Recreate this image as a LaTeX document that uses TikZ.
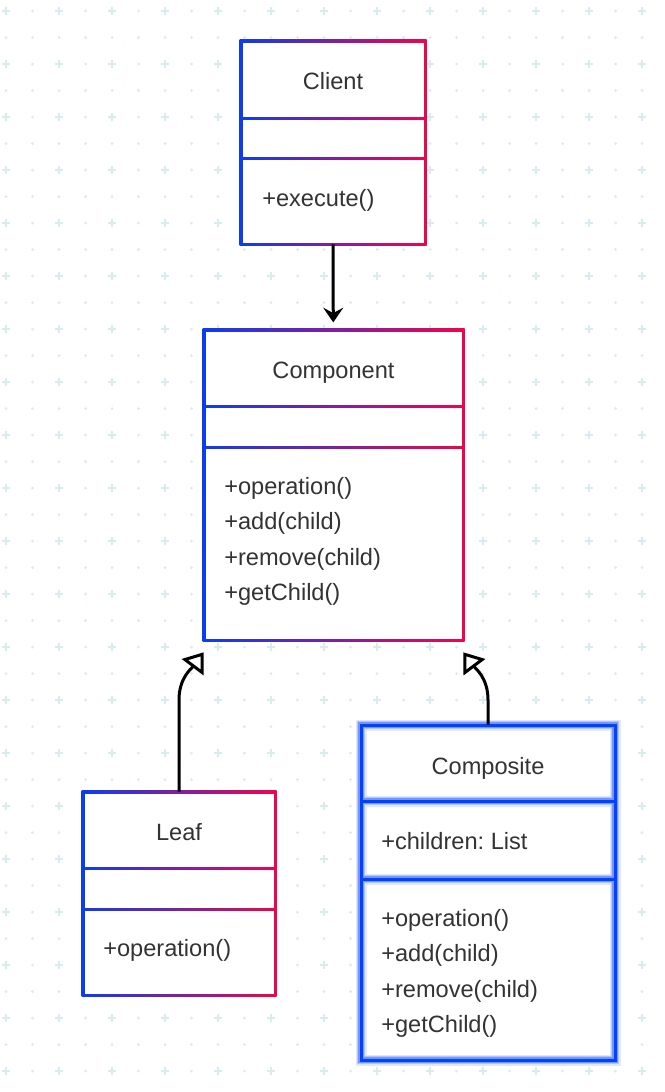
\documentclass[tikz,border=0pt]{standalone}
\usepackage{fontspec}
\setmainfont{Liberation Sans}
\usetikzlibrary{arrows.meta,calc,fit,positioning}
\definecolor{gridcol}{RGB}{214,236,239}
\definecolor{umlblue}{RGB}{12,60,242}
\definecolor{umlred}{RGB}{240,4,76}
\definecolor{glowblue}{RGB}{0,66,255}
\definecolor{txt}{RGB}{51,51,51}
\frenchspacing
\begin{document}
\begin{tikzpicture}[x=0.75pt,y=-0.75pt]
	\tikzset{classtitle/.style = {anchor=base, inner sep=0pt, text=txt, font=\fontsize{17.7}{21}\selectfont}}
	\tikzset{member/.style = {anchor=base west, inner sep=0pt, text=txt, font=\fontsize{17.7}{21}\selectfont}}
	\tikzset{uses/.style = {-{Stealth[length=11pt,width=15pt,inset=4pt]}, line width=2.25pt}}
	\tikzset{inherits/.style = {-{Triangle[open,length=14pt,width=20pt]}, line width=2.25pt}}
	\useasboundingbox[fill=white] (0,0) rectangle (664,1092);
	\foreach \i in {0,...,25}
		\foreach \j in {0,...,41}
			\fill[gridcol] (6+26.5*\i,11+26.5*\j) circle (1.5);
	\foreach \i in {0,...,12}
		\foreach \j in {0,...,20}
			\draw[gridcol, line width=1.5pt] (2+53*\i,11+53*\j) -- ++(8,0) (6+53*\i,7+53*\j) -- ++(0,8);
	\foreach \xa/\ya/\xb/\yb/\da/\db in {241/41/425/244/118/158, 204/330/463/640/406/447, 83/792/275/995/868/909}{
		\shade[left color=umlblue, right color=umlred] (\xa-1.5,\ya-1.5) rectangle (\xb+1.5,\yb+1.5);
		\fill[white] (\xa+1.5,\ya+1.5) rectangle (\xb-1.5,\da-1.5);
		\fill[white] (\xa+1.5,\da+1.5) rectangle (\xb-1.5,\db-1.5);
		\fill[white] (\xa+1.5,\db+1.5) rectangle (\xb-1.5,\yb-1.5);
	}
	\fill[white] (361,725) rectangle (615,1060);
	\foreach \w/\o in {11/0.12, 8/0.2, 5.5/0.35}
		\draw[glowblue, opacity=\o, line width=\w*0.75pt] (361,725) rectangle (615,1060) (361,801) -- (615,801) (361,879) -- (615,879);
	\draw[glowblue, line width=2.25pt] (361,725) rectangle (615,1060) (361,801) -- (615,801) (361,879) -- (615,879);
	\node[inner sep=0pt, fit={(241,41) (425,244)}] (client) {};
	\node[inner sep=0pt, fit={(204,330) (463,640)}] (component) {};
	\node[inner sep=0pt, fit={(83,792) (275,995)}] (leaf) {};
	\node[inner sep=0pt, fit={(361,725) (615,1060)}] (composite) {};
	\node[classtitle] (clientname) at (333,89) {Client};
	\node[member] (execute) at (262,206) {+execute()};
	\node[classtitle] (componentname) at (333.5,378) {Component};
	\node[member] (compop) at (224,494) {+operation()};
	\node[member] (compadd) at (224,529.5) {+add(child)};
	\node[member] (compremove) at (224,565) {+remove(child)};
	\node[member] (compget) at (224,600.5) {+getChild()};
	\node[classtitle] (leafname) at (179,840) {Leaf};
	\node[member] (leafop) at (103,956) {+operation()};
	\node[classtitle] (compositename) at (488,774) {Composite};
	\node[member] (children) at (381,849) {+children: List};
	\node[member] (compositeop) at (381,926) {+operation()};
	\node[member] (compositeadd) at (381,961.5) {+add(child)};
	\node[member] (compositeremove) at (381,997) {+remove(child)};
	\node[member] (compositeget) at (381,1032.5) {+getChild()};
	\draw[uses, shorten >=5.5pt] (client) -- (component);
	\draw[inherits] (leaf.north) -- ++(0,-92) .. controls +(0,-22) and +(-12,16) .. ($(component.south west)+(0,12)$);
	\draw[inherits] (composite.north) -- ++(0,-25) .. controls +(0,-22) and +(12,16) .. ($(component.south east)+(0,12)$);
\end{tikzpicture}
\end{document}
